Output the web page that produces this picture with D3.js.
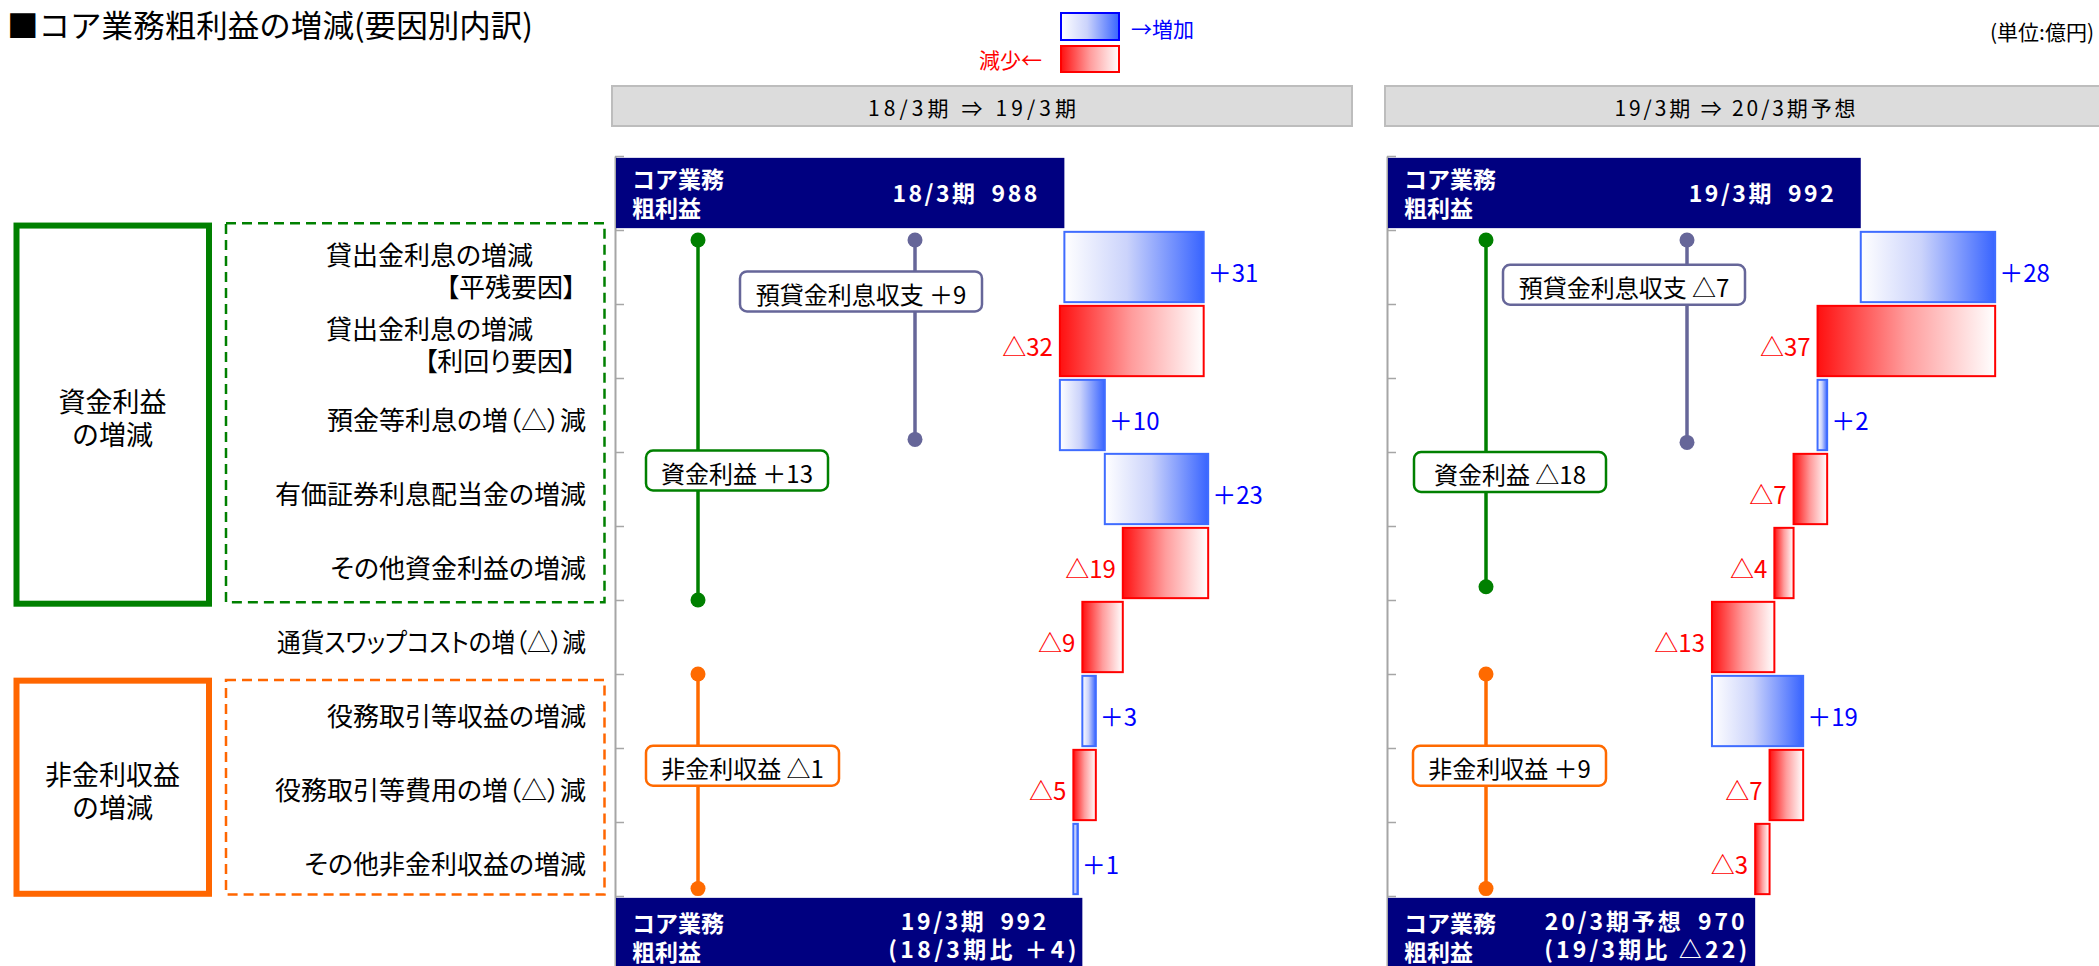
<!DOCTYPE html>
<html>
<head>
<meta charset="utf-8">
<script src="https://cdn.jsdelivr.net/npm/d3@7"></script>
<style>
  html, body { margin: 0; padding: 0; background: #ffffff; }
  svg { display: block; font-family: "Noto Sans CJK JP", "Noto Sans", sans-serif; }
  .palt { font-feature-settings: "palt"; }
</style>
</head>
<body>
<svg id="chart" width="2099" height="966"></svg>
<script>
// ---- data -------------------------------------------------------------
const factorIds = ["loanVol", "loanYield", "deposit", "securities", "otherFund",
                   "swap", "feeIncome", "feeCost", "otherNonInt"];
const factorLabels = [
  ["貸出金利息の増減", "【平残要因】"],
  ["貸出金利息の増減", "【利回り要因】"],
  ["預金等利息の増（△）減"],
  ["有価証券利息配当金の増減"],
  ["その他資金利益の増減"],
  ["通貨スワップコストの増（△）減"],
  ["役務取引等収益の増減"],
  ["役務取引等費用の増（△）減"],
  ["その他非金利収益の増減"]
];
const periodTitles = ["18/3期 ⇒ 19/3期", "19/3期 ⇒ 20/3期予想"];
const startValues = [988, 992];
const startLabels = ["18/3期\u2002988", "19/3期\u2002992"];
const endValues = [992, 970];
const endLabels = [["19/3期\u2002992", "(18/3期比 ＋4)"], ["20/3期予想\u2002970", "(19/3期比 △22)"]];
const changes1819 = [31, -32, 10, 23, -19, -9, 3, -5, 1];
const changes1920 = [28, -37, 2, -7, -4, -13, 19, -7, -3];
const subtotalNames = ["預貸金利息収支", "資金利益", "非金利収益"];
const subtotals1819 = [9, 13, -1];
const subtotals1920 = [-7, -18, 9];
const groupNames = [["資金利益", "の増減"], ["非金利収益", "の増減"]];

// ---- layout -------------------------------------------------------------
const svg = d3.select("#chart");
const defs = svg.append("defs");
const BLUE = "#0000ff", RED = "#ff0000", NAVY = "#000080";
const C_GREEN = "#008000", C_ORANGE = "#ff6a00", C_PURPLE = "#666699";

function gradient(id, stops) {
  const g = defs.append("linearGradient").attr("id", id)
    .attr("x1", "0").attr("x2", "1").attr("y1", "0").attr("y2", "0");
  stops.forEach(([o, c]) => g.append("stop").attr("offset", o).attr("stop-color", c));
}
gradient("gUp", [["0%", "#ffffff"], ["45%", "#cbd3fb"], ["100%", "#3864ff"]]);
gradient("gDown", [["0%", "#ff1010"], ["50%", "#ff9c9c"], ["100%", "#ffffff"]]);

const fmt = v => (v >= 0 ? "＋" : "△") + Math.abs(v);

// rows: opening total, nine factors, closing total
const rowIds = ["start", ...factorIds, "end"];
const rowY = d3.scaleLinear().domain([0, 11]).range([156, 970]);
const y = d3.scaleBand().domain(rowIds).range([156, 970]).paddingInner(0.05).paddingOuter(0.025);
const rowMid = id => y(id) + y.bandwidth() / 2;

// stacked lines in a single text element; each line: {s, x, y, anchor, len}
function multiline(parent, lines, attrs) {
  const t = parent.append("text").attr("dominant-baseline", "central");
  Object.entries(attrs).forEach(([k, v]) => t.attr(k, v));
  lines.forEach(l => {
    const ts = t.append("tspan").attr("x", l.x).attr("y", l.y)
      .attr("text-anchor", l.anchor || "start").text(l.s);
    if (l.len) ts.attr("textLength", l.len).attr("lengthAdjust", "spacing");
  });
  return t;
}

// ---- title, unit, legend -------------------------------------------------
svg.append("text").attr("x", 7).attr("y", 23).attr("dominant-baseline", "central")
  .attr("font-size", 31).attr("fill", "#000").attr("textLength", 526)
  .attr("lengthAdjust", "spacingAndGlyphs")
  .text("■コア業務粗利益の増減(要因別内訳)");

svg.append("text").attr("x", 2094).attr("y", 31).attr("dominant-baseline", "central")
  .attr("text-anchor", "end").attr("font-size", 21).attr("fill", "#000")
  .text("(単位:億円)");

svg.append("rect").attr("x", 1061).attr("y", 13).attr("width", 58).attr("height", 27)
  .attr("fill", "url(#gUp)").attr("stroke", BLUE).attr("stroke-width", 2);
svg.append("text").attr("x", 1131).attr("y", 28).attr("dominant-baseline", "central")
  .attr("font-size", 21).attr("fill", BLUE).text("→増加");
svg.append("rect").attr("x", 1061).attr("y", 46).attr("width", 58).attr("height", 26)
  .attr("fill", "url(#gDown)").attr("stroke", RED).attr("stroke-width", 2);
svg.append("text").attr("x", 1042).attr("y", 59).attr("dominant-baseline", "central")
  .attr("text-anchor", "end").attr("font-size", 21).attr("fill", RED).text("減少←");

// ---- left side: factor names and group frames ----------------------------
const labelRight = 586;
factorIds.forEach((id, i) => {
  const lines = factorLabels[i];
  const g = svg.append("g").attr("font-size", 26).attr("fill", "#000").attr("class", "palt");
  if (lines.length === 1) {
    const t = g.append("text").attr("x", labelRight).attr("y", rowMid(id) + 3)
      .attr("dominant-baseline", "central").attr("text-anchor", "end").text(lines[0]);
    if (id === "swap") t.attr("textLength", 309).attr("lengthAdjust", "spacingAndGlyphs");
  } else {
    multiline(g, [
      { s: lines[0], x: labelRight - 53, y: rowMid(id) - 14, anchor: "end" },
      { s: lines[1], x: labelRight - 10, y: rowMid(id) + 18, anchor: "end" }
    ], {});
  }
});

const groupFrames = [
  { name: groupNames[0], color: C_GREEN, solid: [0.94, 6.05], dashed: [0.91, 6.03] },
  { name: groupNames[1], color: "#ff6600", solid: [7.09, 9.97], dashed: [7.08, 9.98] }
];
groupFrames.forEach(f => {
  const s0 = rowY(f.solid[0]), s1 = rowY(f.solid[1]);
  svg.append("rect").attr("x", 16.5).attr("y", s0).attr("width", 192.5).attr("height", s1 - s0)
    .attr("fill", "none").attr("stroke", f.color).attr("stroke-width", 6);
  const d0 = rowY(f.dashed[0]), d1 = rowY(f.dashed[1]);
  svg.append("rect").attr("x", 226).attr("y", d0).attr("width", 378.5).attr("height", d1 - d0)
    .attr("fill", "none").attr("stroke", f.color).attr("stroke-width", 2.5)
    .attr("stroke-dasharray", "10,6");
  const cy = (s0 + s1) / 2;
  multiline(svg, [
    { s: f.name[0], x: 112.5, y: cy - 14.5, anchor: "middle" },
    { s: f.name[1], x: 112.5, y: cy + 18.5, anchor: "middle" }
  ], { "font-size": 27, fill: "#000" });
});

// ---- bridge panels --------------------------------------------------------
const panels = [
  {
    title: periodTitles[0], changes: changes1819, start: startValues[0], end: endValues[0],
    startLabel: startLabels[0], endLabel: endLabels[0], subtotals: subtotals1819,
    x: d3.scaleLinear().domain([888, 1048]).range([615, 1334]),
    header: { x: 612, w: 740, tx: 972, tw: 208 },
    endText: [{ end: -36, w: 145.5 }, { end: -6, w: 188 }],
    connectors: [
      { dx: 300, span: [1.135, 3.83], box: { cx: 246, w: 242, row: 1.83 }, color: C_PURPLE },
      { dx: 83, span: [1.135, 6.0], box: { cx: 122, w: 182, row: 4.25 }, color: C_GREEN },
      { dx: 83, span: [7.0, 9.9], box: { cx: 127.5, w: 193, row: 8.24 }, color: C_ORANGE }
    ]
  },
  {
    title: periodTitles[1], changes: changes1920, start: startValues[1], end: endValues[1],
    startLabel: startLabels[1], endLabel: endLabels[1], subtotals: subtotals1920,
    x: d3.scaleLinear().domain([893.3, 1043.3]).range([1387, 2107]),
    header: { x: 1385, w: 740, tx: 1735, tw: 241 },
    endText: [{ end: -10.5, w: 200 }, { end: -8, w: 203 }],
    connectors: [
      { dx: 300, span: [1.135, 3.87], box: { cx: 237, w: 242, row: 1.74 }, color: C_PURPLE },
      { dx: 99, span: [1.135, 5.82], box: { cx: 123, w: 192, row: 4.27 }, color: C_GREEN },
      { dx: 99, span: [7.0, 9.9], box: { cx: 122.5, w: 193, row: 8.24 }, color: C_ORANGE }
    ]
  }
];

panels.forEach(p => {
  const x = p.x;
  const axisX = x.range()[0];
  const g = svg.append("g");

  // period header
  g.append("rect").attr("x", p.header.x).attr("y", 86).attr("width", p.header.w).attr("height", 40)
    .attr("fill", "#dcdcdc").attr("stroke", "#bdbdbd").attr("stroke-width", 2);
  g.append("text").attr("x", p.header.tx).attr("y", 107).attr("text-anchor", "middle")
    .attr("dominant-baseline", "central").attr("font-size", 21).attr("fill", "#000")
    .attr("textLength", p.header.tw).attr("lengthAdjust", "spacing").text(p.title);

  // row axis with a tick at every row boundary
  g.append("g").attr("transform", `translate(${axisX},0)`)
    .call(d3.axisRight(rowY).tickValues(d3.range(0, 12)).tickSize(9).tickSizeOuter(0).tickFormat(""))
    .call(a => a.select(".domain").attr("stroke", "#a6a6a6").attr("stroke-width", 2))
    .call(a => a.selectAll(".tick line").attr("stroke", "#a6a6a6").attr("stroke-width", 1.5));

  const boxText = { "font-size": 23, "font-weight": "bold", fill: "#fff" };

  // opening total
  const t0 = y("start");
  g.append("rect").attr("x", axisX + 1).attr("y", t0)
    .attr("width", x(p.start) - axisX - 1).attr("height", y.bandwidth()).attr("fill", NAVY);
  multiline(g, [
    { s: "コア業務", x: axisX + 17, y: t0 + 20 },
    { s: "粗利益", x: axisX + 17, y: t0 + 49 }
  ], boxText);
  g.append("text").attr("x", x(p.start) - 27).attr("y", t0 + 34.5).attr("text-anchor", "end")
    .attr("dominant-baseline", "central").attr("font-size", 23).attr("font-weight", "bold")
    .attr("fill", "#fff").attr("textLength", 145).attr("lengthAdjust", "spacing").text(p.startLabel);

  // closing total
  const t1 = y("end");
  g.append("rect").attr("x", axisX + 1).attr("y", t1)
    .attr("width", x(p.end) - axisX - 1).attr("height", y.bandwidth()).attr("fill", NAVY);
  multiline(g, [
    { s: "コア業務", x: axisX + 17, y: t1 + 24 },
    { s: "粗利益", x: axisX + 17, y: t1 + 53 }
  ], boxText);
  multiline(g, p.endLabel.map((s, i) => ({
    s, x: x(p.end) + p.endText[i].end, y: t1 + (i ? 50 : 22), anchor: "end", len: p.endText[i].w
  })), boxText);

  // factor bars, chained from the opening total
  let acc = p.start;
  const steps = p.changes.map((v, i) => {
    const from = acc; acc += v;
    return { id: factorIds[i], v, from, to: acc };
  });
  g.selectAll("rect.step").data(steps).join("rect").attr("class", "step")
    .attr("x", d => x(Math.min(d.from, d.to)))
    .attr("y", d => y(d.id))
    .attr("width", d => Math.abs(x(d.to) - x(d.from)))
    .attr("height", y.bandwidth())
    .attr("fill", d => d.v >= 0 ? "url(#gUp)" : "url(#gDown)")
    .attr("stroke", d => d.v >= 0 ? "#3f6cff" : RED)
    .attr("stroke-width", 2);
  g.selectAll("text.step").data(steps).join("text").attr("class", "step")
    .attr("x", d => d.v >= 0 ? x(d.to) + 4 : x(d.to) - 7)
    .attr("y", d => rowMid(d.id) + 4)
    .attr("text-anchor", d => d.v >= 0 ? "start" : "end")
    .attr("dominant-baseline", "central").attr("font-size", 24)
    .attr("fill", d => d.v >= 0 ? BLUE : RED)
    .text(d => fmt(d.v));

  // subtotal connectors
  p.connectors.forEach(c => {
    const cx = axisX + c.dx;
    g.append("line").attr("x1", cx).attr("x2", cx)
      .attr("y1", rowY(c.span[0])).attr("y2", rowY(c.span[1]))
      .attr("stroke", c.color).attr("stroke-width", 3.5);
    c.span.forEach(r => g.append("circle").attr("cx", cx).attr("cy", rowY(r)).attr("r", 7.5)
      .attr("fill", c.color));
  });
  p.connectors.forEach((c, i) => {
    const bx = axisX + c.box.cx, by = rowY(c.box.row);
    g.append("rect").attr("x", bx - c.box.w / 2).attr("y", by - 20)
      .attr("width", c.box.w).attr("height", 40).attr("rx", 7)
      .attr("fill", "#fff").attr("stroke", c.color).attr("stroke-width", 2.5);
    g.append("text").attr("x", bx).attr("y", by + 2).attr("text-anchor", "middle")
      .attr("dominant-baseline", "central").attr("font-size", 24).attr("fill", "#000")
      .attr("xml:space", "preserve")
      .text(subtotalNames[i] + " " + fmt(p.subtotals[i]));
  });
});
</script>
</body>
</html>
